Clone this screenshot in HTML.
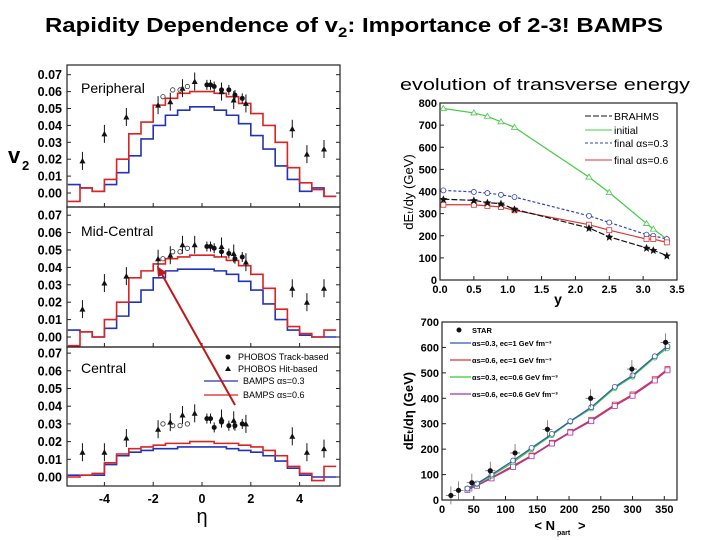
<!DOCTYPE html>
<html><head><meta charset="utf-8"><style>
html,body{margin:0;padding:0;background:#fff;}
svg{display:block;font-family:"Liberation Sans",Arial,sans-serif;}
</style></head><body>
<svg id="s" width="720" height="540" viewBox="0 0 720 540" xmlns="http://www.w3.org/2000/svg">
<text x="45" y="32" font-size="20" font-weight="bold" textLength="618" lengthAdjust="spacingAndGlyphs">Rapidity Dependence of v<tspan font-size="14" dy="5">2</tspan><tspan dy="-5">: Importance of 2-3! BAMPS</tspan></text>
<text x="400" y="90" font-size="17" textLength="290" lengthAdjust="spacingAndGlyphs">evolution of transverse energy</text>
<g id="L"></g>
<g id="RT"></g>
<g id="RB"></g>
</svg>
<script>
// ---- left chart data ----
const etaCenters=[-5.25,-4.75,-4.25,-3.75,-3.25,-2.75,-2.25,-1.75,-1.25,-0.75,-0.25,0.25,0.75,1.25,1.75,2.25,2.75,3.25,3.75,4.25,4.75,5.25];
const perRed=[-0.005,0.003,0.001,0.008,0.02,0.035,0.042,0.052,0.056,0.059,0.06,0.06,0.059,0.057,0.053,0.047,0.04,0.03,0.015,0.006,0.002,-0.002];
const perBlue=[0.005,0.003,0.001,0.005,0.012,0.022,0.032,0.04,0.046,0.049,0.051,0.051,0.049,0.046,0.041,0.034,0.026,0.016,0.008,0.001,0.003,-0.002];
const midRed=[-0.005,0.003,0,0.01,0.02,0.034,0.038,0.042,0.045,0.046,0.047,0.047,0.046,0.044,0.041,0.036,0.028,0.016,0.006,0.002,0,0.004];
const midBlue=[0.004,0.003,0,0.005,0.012,0.02,0.027,0.034,0.038,0.039,0.039,0.039,0.038,0.036,0.032,0.027,0.019,0.01,0.004,0.001,0,0];
const cenRed=[0,0.001,0.002,0.008,0.013,0.016,0.017,0.018,0.019,0.019,0.02,0.02,0.019,0.019,0.018,0.017,0.015,0.012,0.006,0.002,-0.002,0.006];
const cenBlue=[0.001,0.001,0.001,0.007,0.012,0.014,0.015,0.016,0.016,0.017,0.017,0.017,0.017,0.016,0.015,0.014,0.012,0.009,0.005,0.001,0,0];
const triEta=[-4.9,-4,-3.1,-1.8,-1.3,-0.8,-0.3,0.8,1.3,1.8,3.7,4.3,5];
const perTri=[0.019,0.035,0.045,0.052,0.054,0.062,0.066,0.06,0.055,0.053,0.038,0.023,0.026];
const midTri=[0.016,0.031,0.035,0.045,0.047,0.053,0.053,0.052,0.048,0.043,0.028,0.02,0.028];
const cenTri=[0.014,0.014,0.022,0.027,0.031,0.035,0.036,0.033,0.032,0.03,0.023,0.014,0.016];
const dotEta=[0.2,0.35,0.5,0.8,1.1,1.35,1.65];
const perDot=[0.064,0.064,0.063,0.061,0.061,0.058,0.056];
const midDot=[0.052,0.052,0.051,0.049,0.048,0.045,0.046];
const cenDot=[0.033,0.033,0.028,0.031,0.029,0.029,0.03];
const openEta=[-1.6,-1.2,-0.9,-0.6];
const perOpen=[0.057,0.061,0.061,0.063];
const midOpen=[0.045,0.049,0.049,0.051];
const cenOpen=[0.03,0.029,0.029,0.03];
const v2Ticks=[0,0.01,0.02,0.03,0.04,0.05,0.06,0.07];
const etaTicks=[-4,-2,0,2,4];
// ---- right top data ----
const yVals=[0.05,0.5,0.7,0.9,1.1,2.2,2.5,3.05,3.15,3.35];
const brahms=[365,360,350,345,320,235,195,145,135,110];
const initialEt=[775,755,740,715,690,465,395,255,230,185];
const final03=[405,398,393,385,375,290,260,205,200,185];
const final06=[340,340,335,330,315,250,225,185,185,170];
const rtXTicks=[0,0.5,1,1.5,2,2.5,3,3.5];
const rtYTicks=[0,100,200,300,400,500,600,700,800];
// ---- right bottom data ----
const starN=[14,26,47,76,115,166,234,299,352];
const starEt=[18,38,68,115,185,278,400,515,620];
const modelN=[40,55,78,112,141,173,202,235,272,300,335,355];
const mBlue=[45,65,100,155,205,260,310,365,445,490,565,605];
const mGreen=[45,62,95,148,200,255,308,360,440,485,560,598];
const mRed=[42,58,88,135,175,225,268,315,375,415,475,515];
const mPurple=[40,56,85,130,172,222,265,310,370,410,470,510];
const rbXTicks=[0,50,100,150,200,250,300,350];
const rbYTicks=[0,100,200,300,400,500,600,700];

const NS="http://www.w3.org/2000/svg";
function mk(p,tag,at){const e=document.createElementNS(NS,tag);for(const k in at)e.setAttribute(k,at[k]);p.appendChild(e);return e;}
function txt(p,x,y,s,at){const e=mk(p,'text',Object.assign({x:x,y:y},at||{}));e.textContent=s;return e;}

// ===== Left chart =====
const L=document.getElementById('L');
const lx0=67,lx1=340;
const ex=e=>202+(e)*24.4;
const panels=[
 {name:'peripheral',top:65,bot:207,y0:193,k:1690,red:perRed,blue:perBlue,tri:perTri,dot:perDot,open:perOpen,label:'Peripheral',ly:93},
 {name:'mid-central',top:207,bot:347,y0:337,k:1740,red:midRed,blue:midBlue,tri:midTri,dot:midDot,open:midOpen,label:'Mid-Central',ly:236},
 {name:'central',top:347,bot:486,y0:477,k:1770,red:cenRed,blue:cenBlue,tri:cenTri,dot:cenDot,open:cenOpen,label:'Central',ly:373}
];
panels.forEach(P=>{
 const g=mk(L,'g',{});
 
 
 const vy=v=>P.y0-v*P.k;
 const fr=mk(g,'rect',{x:lx0,y:P.top,width:lx1-lx0,height:P.bot-P.top,fill:'none',stroke:'#222','stroke-width':1.2});
 
 
 v2Ticks.forEach(t=>{
  const y=vy(t);
  mk(g,'line',{x1:lx0,x2:lx0+4,y1:y,y2:y,stroke:'#222'});
  mk(g,'line',{x1:lx1,x2:lx1-4,y1:y,y2:y,stroke:'#222'});
  const tl=txt(g,62,y+4.5,t.toFixed(2),{'text-anchor':'end','font-size':12.5,'font-weight':'bold'});
  
  
 });
 etaTicks.forEach(t=>{mk(g,'line',{x1:ex(t),x2:ex(t),y1:P.bot,y2:P.bot-4,stroke:'#222'});});
 const lb=txt(g,81,P.ly,P.label,{'font-size':14});
 
 
 [['blue','#2233bb',P.blue],['red','#dd2222',P.red]].forEach(([n,c,arr])=>{
  let d='';
  arr.forEach((v,i)=>{const xa=Math.max(lx0,ex(etaCenters[i]-0.25)),xb=Math.min(lx1,ex(etaCenters[i]+0.25));const y=Math.min(P.bot,vy(v));d+=(i?'L':'M')+xa+','+y+'L'+xb+','+y;});
  const p=mk(g,'path',{d:d,fill:'none',stroke:c,'stroke-width':1.6});
  
  
 });
 P.tri.forEach((v,i)=>{
  const x=ex(triEta[i]),y=vy(v);
  mk(g,'line',{x1:x,x2:x,y1:y-9,y2:y+9,stroke:'#111'});
  const t=mk(g,'path',{d:`M${x},${y-3}L${x+3},${y+2.5}L${x-3},${y+2.5}Z`,fill:'#111'});
  
  
 });
 P.dot.forEach((v,i)=>{
  const x=ex(dotEta[i]),y=vy(v);
  mk(g,'line',{x1:x,x2:x,y1:y-5,y2:y+5,stroke:'#111'});
  const c=mk(g,'circle',{cx:x,cy:y,r:2.5,fill:'#111'});
  
  
 });
 P.open.forEach((v,i)=>{
  const c=mk(g,'circle',{cx:ex(openEta[i]),cy:vy(v),r:2.2,fill:'none',stroke:'#333','stroke-width':0.8});
  
  
 });
});
etaTicks.forEach(t=>{
 const e=txt(L,ex(t),503,String(t),{'text-anchor':'middle','font-size':12.5,'font-weight':'bold'});
 
 
});
const xt=txt(L,202,523,'η',{'text-anchor':'middle','font-size':20});


const yt=txt(L,8,163,'v',{'font-size':22,'font-weight':'bold'});


txt(L,22,170,'2',{'font-size':13,'font-weight':'bold'});
// legend
const lg=mk(L,'g',{});


mk(lg,'circle',{cx:228,cy:357,r:2.5,fill:'#111'});
txt(lg,238,360,'PHOBOS Track-based',{'font-size':9});
mk(lg,'path',{d:'M228,366L231,371L225,371Z',fill:'#111'});
txt(lg,238,372,'PHOBOS Hit-based',{'font-size':9});
mk(lg,'line',{x1:204,x2:238,y1:381,y2:381,stroke:'#2233bb','stroke-width':1.3});
txt(lg,243,384,'BAMPS αs=0.3',{'font-size':9});
mk(lg,'line',{x1:204,x2:238,y1:395,y2:395,stroke:'#dd2222','stroke-width':1.3});
txt(lg,243,398,'BAMPS αs=0.6',{'font-size':9});
// arrow
const ar=mk(L,'g',{});


mk(ar,'line',{x1:235,y1:405,x2:160,y2:271,stroke:'#c01818','stroke-width':2});
mk(ar,'path',{d:'M157,266L167,273L158,277Z',fill:'#c01818'});

// ===== Right charts =====
function chart(G,x0,x1,y0,y1,xmin,xmax,ymax,xt,yt,xfmt){
 const sx=v=>x0+(v-xmin)/(xmax-xmin)*(x1-x0);
 const sy=v=>y1-v/ymax*(y1-y0);
 const f=mk(G,'rect',{x:x0,y:y0,width:x1-x0,height:y1-y0,fill:'none',stroke:'#222','stroke-width':1.2});
 
 
 xt.forEach(t=>{mk(G,'line',{x1:sx(t),x2:sx(t),y1:y1,y2:y1-4,stroke:'#222'});
  const e=txt(G,sx(t),y1+13,xfmt(t),{'text-anchor':'middle','font-size':11,'font-weight':'bold'});
  
  });
 yt.forEach(t=>{mk(G,'line',{x1:x0,x2:x0+4,y1:sy(t),y2:sy(t),stroke:'#222'});
  const e=txt(G,x0-3,sy(t)+4,String(t),{'text-anchor':'end','font-size':11,'font-weight':'bold'});
  
  });
 return [sx,sy];
}
function series(G,sx,sy,xs,ys,color,marker,dash,name){
 const g=mk(G,'g',{});
 
 
 if(marker!=='dot')mk(g,'polyline',{points:xs.map((x,i)=>sx(x)+','+sy(ys[i])).join(' '),fill:'none',stroke:color,'stroke-width':1.2,'stroke-dasharray':dash||''});
 xs.forEach((x,i)=>{const X=sx(x),Y=sy(ys[i]);
  if(marker==='star')mk(g,'path',{d:`M${X},${Y-4}L${X+1.2},${Y-1.2}L${X+4},${Y-1}L${X+1.8},${Y+1}L${X+2.5},${Y+4}L${X},${Y+2.2}L${X-2.5},${Y+4}L${X-1.8},${Y+1}L${X-4},${Y-1}L${X-1.2},${Y-1.2}Z`,fill:color});
  else if(marker==='tri')mk(g,'path',{d:`M${X},${Y-3}L${X+3},${Y+2}L${X-3},${Y+2}Z`,fill:'#fff',stroke:color,'stroke-width':0.8});
  else if(marker==='circ')mk(g,'circle',{cx:X,cy:Y,r:2.5,fill:'#fff',stroke:color,'stroke-width':0.8});
  else if(marker==='sq')mk(g,'rect',{x:X-2.5,y:Y-2.5,width:5,height:5,fill:'#fff',stroke:color,'stroke-width':0.8});
  else if(marker==='dot'){mk(g,'line',{x1:X,x2:X,y1:Y-9,y2:Y+9,stroke:'#555','stroke-width':0.7});mk(g,'line',{x1:X-5,x2:X+5,y1:Y,y2:Y,stroke:'#555','stroke-width':0.7});mk(g,'circle',{cx:X,cy:Y,r:2.6,fill:'#111'});}
 });
}
const RT=document.getElementById('RT');
const [ax,ay]=chart(RT,440,677,103,280,0,3.5,800,rtXTicks,rtYTicks,t=>t.toFixed(1));
series(RT,ax,ay,yVals,initialEt,'#44cc44','tri','','initial-series');
series(RT,ax,ay,yVals,final03,'#3344bb','circ','3,2','final-0.3-series');
series(RT,ax,ay,yVals,final06,'#dd3333','sq','','final-0.6-series');
series(RT,ax,ay,yVals,brahms,'#111','star','6,2','brahms-series');
const t1=txt(RT,558,304,'y',{'text-anchor':'middle','font-size':14,'font-weight':'bold'});


const t2=txt(RT,413,192,'dE\u209C/dy  (GeV)',{'text-anchor':'middle','font-size':13,transform:'rotate(-90 413 192)'});


const lt=mk(RT,'g',{});


[['BRAHMS','#111','6,2',116],['initial','#44cc44','',130],['final αs=0.3','#3344bb','3,2',143],['final αs=0.6','#dd3333','',160]].forEach(r=>{
 mk(lt,'line',{x1:585,x2:612,y1:r[3],y2:r[3],stroke:r[1],'stroke-dasharray':r[2]});
 txt(lt,614,r[3]+4,r[0],{'font-size':10.5});
});

const RB=document.getElementById('RB');
const [bx,by]=chart(RB,442,677,322,500,0,370,700,rbXTicks,rbYTicks,t=>String(t));
series(RB,bx,by,modelN,mRed,'#dd3333','sq','','a06-e1-series');
series(RB,bx,by,modelN,mPurple,'#aa33aa','sq','','a06-e06-series');
series(RB,bx,by,modelN,mGreen,'#33cc33','circ','','a03-e06-series');
series(RB,bx,by,modelN,mBlue,'#3355bb','circ','','a03-e1-series');
series(RB,bx,by,starN,starEt,'#111','dot','','star-data');
const t3=txt(RB,555,530,'< N',{'text-anchor':'end','font-size':13,'font-weight':'bold'});


txt(RB,557,535,'part',{'font-size':7,'font-weight':'bold'});
txt(RB,578,530,'>',{'font-size':13,'font-weight':'bold'});
const t4=txt(RB,413,411,'dE\u209C/dη (GeV)',{'text-anchor':'middle','font-size':13,'font-weight':'bold',transform:'rotate(-90 413 411)'});


const lb2=mk(RB,'g',{});


mk(lb2,'circle',{cx:459,cy:330,r:2.5,fill:'#111'});
txt(lb2,472,333,'STAR',{'font-size':7.5,'font-weight':'bold'});
[['αs=0.3, ec=1 GeV fm⁻³','#3355bb',343],['αs=0.6, ec=1 GeV fm⁻³','#dd3333',360],['αs=0.3, ec=0.6 GeV fm⁻³','#33cc33',377],['αs=0.6, ec=0.6 GeV fm⁻³','#aa33aa',394]].forEach(r=>{
 mk(lb2,'line',{x1:450,x2:471,y1:r[2],y2:r[2],stroke:r[1],'stroke-width':1.3});
 txt(lb2,472,r[2]+3,r[0],{'font-size':7.5,'font-weight':'bold'});
});
</script>
</body></html>
